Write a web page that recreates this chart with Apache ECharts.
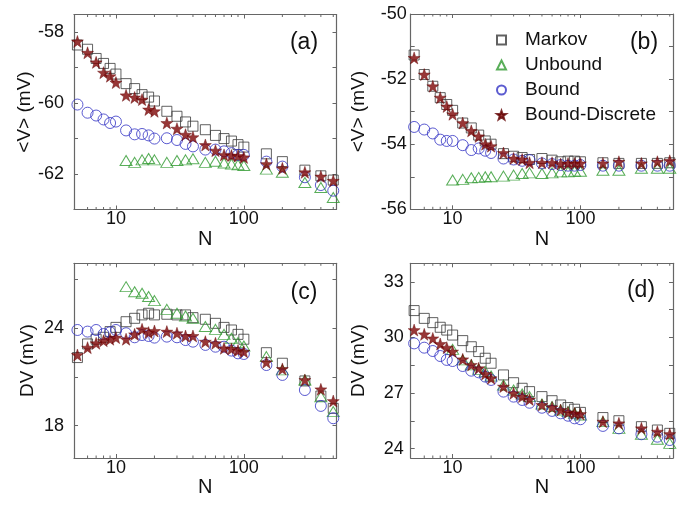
<!DOCTYPE html>
<html>
<head>
<meta charset="utf-8">
<script src="https://cdn.jsdelivr.net/npm/echarts@6/dist/echarts.min.js"></script>
<style>html,body{margin:0;padding:0;background:#fff}#c{width:686px;height:505px}</style>
</head>
<body>
<div id="c"></div>
<script>
// ---- data ----
const N = [5,6,7,8,9,10,12,14,16,18,20,25,30,35,40,50,60,70,80,90,100,150,200,300,400,500];
const minorN = [6,7,8,9,20,30,40,50,60,70,80,90,200,300,400,500];
const seriesNames = ['Markov','Unbound','Bound','Bound-Discrete'];
const panelLabels = ['(a)','(b)','(c)','(d)'];

const A_markov = [-58.36,-58.48,-58.74,-58.88,-59.02,-59.18,-59.45,-59.59,-59.76,-59.83,-59.94,-60.23,-60.37,-60.53,-60.65,-60.75,-60.91,-61.00,-61.07,-61.17,-61.24,-61.43,-61.65,-61.89,-62.05,-62.17];
const A_unbound = [null,null,null,null,null,null,-61.62,-61.67,-61.60,-61.56,-61.60,-61.67,-61.62,-61.60,-61.57,-61.67,-61.64,-61.69,-61.72,-61.74,-61.76,-61.86,-61.95,-62.24,-62.38,-62.66];
const A_bound = [-60.04,-60.27,-60.35,-60.46,-60.56,-60.52,-60.77,-60.88,-60.87,-60.91,-61.00,-60.99,-61.04,-61.15,-61.22,-61.31,-61.31,-61.36,-61.41,-61.46,-61.46,-61.65,-61.79,-62.09,-62.31,-62.47];
const A_discrete = [-58.26,-58.58,-58.85,-59.14,-59.24,-59.42,-59.78,-59.84,-59.90,-60.18,-60.23,-60.56,-60.72,-60.89,-60.96,-61.18,-61.34,-61.46,-61.48,-61.49,-61.53,-61.72,-61.84,-61.95,-62.07,-62.19];

const B_markov = [-51.26,-51.86,-52.22,-52.57,-52.78,-52.96,-53.35,-53.50,-53.72,-53.90,-54.00,-54.29,-54.37,-54.41,-54.47,-54.44,-54.49,-54.54,-54.52,-54.52,-54.54,-54.57,-54.59,-54.59,-54.59,-54.57];
const B_unbound = [null,null,null,null,null,-55.10,-55.08,-55.03,-55.02,-55.00,-55.00,-54.98,-54.95,-54.90,-54.88,-54.90,-54.88,-54.85,-54.85,-54.83,-54.83,-54.80,-54.80,-54.74,-54.74,-54.74];
const B_bound = [-53.47,-53.55,-53.67,-53.86,-53.90,-53.90,-54.03,-54.18,-54.13,-54.20,-54.27,-54.44,-54.47,-54.51,-54.49,-54.59,-54.61,-54.64,-54.66,-54.66,-54.64,-54.66,-54.66,-54.66,-54.66,-54.66];
const B_discrete = [-51.35,-51.86,-52.22,-52.57,-52.84,-53.08,-53.35,-53.59,-53.76,-54.00,-54.06,-54.27,-54.44,-54.47,-54.57,-54.57,-54.57,-54.61,-54.59,-54.59,-54.59,-54.59,-54.54,-54.59,-54.54,-54.51];

const C_markov = [22.19,23.03,23.32,23.44,23.79,24.05,24.40,24.61,24.82,24.92,24.82,24.86,24.82,24.82,24.65,24.55,24.30,24.05,23.89,23.62,23.32,22.49,21.84,20.75,19.82,19.06];
const C_unbound = [null,null,null,null,null,null,26.56,26.25,26.15,25.95,25.70,25.16,24.92,24.75,24.61,24.10,23.93,23.62,23.38,23.11,22.90,22.25,21.43,20.81,19.78,18.86];
const C_bound = [23.89,23.79,23.89,23.64,23.75,23.89,23.69,23.44,23.58,23.52,23.42,23.48,23.44,23.27,23.17,22.97,22.86,22.86,22.62,22.45,22.41,21.73,21.12,20.19,19.21,18.45];
const C_discrete = [22.35,22.80,23.07,23.23,23.32,23.42,23.32,23.62,23.93,23.73,23.83,23.79,23.69,23.52,23.52,23.17,23.07,22.76,22.72,22.62,22.55,21.90,21.49,20.81,20.23,19.51];

const D_markov = [31.45,31.03,30.80,30.55,30.40,30.13,29.83,29.50,29.24,28.88,28.61,27.98,27.56,27.26,27.08,26.81,26.59,26.36,26.22,26.13,25.96,25.68,25.51,25.19,25.01,24.83];
const D_unbound = [null,null,null,null,null,29.36,28.79,28.52,28.28,28.16,27.92,27.44,27.17,26.95,26.81,26.41,26.27,26.09,26.00,25.91,25.82,25.46,25.10,24.78,24.51,24.29];
const D_bound = [29.68,29.45,29.27,29.00,28.79,28.73,28.46,28.21,28.12,27.89,27.71,27.08,26.81,26.63,26.48,26.21,26.04,25.91,25.78,25.64,25.59,25.23,25.10,24.78,24.65,24.47];
const D_discrete = [30.40,30.17,29.95,29.65,29.45,29.24,28.82,28.52,28.34,28.03,27.80,27.35,26.99,26.81,26.66,26.36,26.23,26.09,25.96,25.91,25.87,25.46,25.37,25.10,24.92,24.79];

// ---- layout / styles ----
const FONT = "'Liberation Sans', Arial, sans-serif";
const FRAME = '#666';
const grids = [
  {left: 74, top: 14.5, width: 262.5, height: 195},
  {left: 410.7, top: 14, width: 262.3, height: 195.3},
  {left: 74, top: 263.3, width: 262.5, height: 194.7},
  {left: 410.7, top: 263.3, width: 262.3, height: 194.7}
];
const yCfg = [
  {name: '<V> (mV)', min: -63, max: -57.5, step: 1, show: v => Math.abs(v % 2) === 0, gap: 37, margin: 10},
  {name: '<V> (mV)', min: -56, max: -50, step: 1, show: v => Math.abs(v % 2) === 0, gap: 42, margin: 4},
  {name: 'DV (mV)', min: 16, max: 28, step: 3, show: v => v % 6 === 0, gap: 37, margin: 10},
  {name: 'DV (mV)', min: 23.5, max: 34, step: 1.5, show: v => v % 3 === 0, gap: 42, margin: 7}
];
const panelData = [
  [A_markov, A_unbound, A_bound, A_discrete],
  [B_markov, B_unbound, B_bound, B_discrete],
  [C_markov, C_unbound, C_bound, C_discrete],
  [D_markov, D_unbound, D_bound, D_discrete]
];
const STAR = 'path://M0,-10L2.35,-3.24L9.51,-3.09L3.8,1.24L5.88,8.09L0,4L-5.88,8.09L-3.8,1.24L-9.51,-3.09L-2.35,-3.24Z';
const styles = [
  {symbol: 'rect', symbolSize: 10, itemStyle: {color: 'rgba(0,0,0,0)', borderColor: '#3a3a3a', borderWidth: 1}},
  {symbol: 'triangle', symbolSize: [12, 10], itemStyle: {color: 'rgba(0,0,0,0)', borderColor: '#2f9a2f', borderWidth: 1}},
  {symbol: 'circle', symbolSize: 11, itemStyle: {color: 'rgba(0,0,0,0)', borderColor: '#3232c4', borderWidth: 1}},
  {symbol: STAR, symbolSize: 12, itemStyle: {color: '#7e0505', borderColor: '#600000', borderWidth: 0.5}}
];
const XMIN = 4.7, XMAX = 530;

const xAxis = [], yAxis = [], series = [];
grids.forEach((g, i) => {
  const yc = yCfg[i];
  xAxis.push({
    type: 'log', logBase: 10, gridIndex: i, min: XMIN, max: XMAX, position: 'bottom',
    name: 'N', nameLocation: 'middle', nameGap: 16,
    nameTextStyle: {fontFamily: FONT, fontSize: 20, color: '#111'},
    axisLine: {show: true, lineStyle: {color: FRAME, width: 1.2}},
    axisTick: {show: true, inside: true, length: 4, lineStyle: {color: FRAME}},
    axisLabel: {fontFamily: FONT, fontSize: 18, color: '#111', margin: 1, showMinLabel: false, showMaxLabel: false},
    splitLine: {show: false}, minorTick: {show: false}
  });
  xAxis.push({
    type: 'log', logBase: 10, gridIndex: i, min: XMIN, max: XMAX, position: 'top',
    axisLine: {show: true, lineStyle: {color: FRAME, width: 1.2}},
    axisTick: {show: true, inside: true, length: 4, lineStyle: {color: FRAME}},
    axisLabel: {show: false}, splitLine: {show: false}
  });
  const yBase = {
    type: 'value', gridIndex: i, min: yc.min, max: yc.max,
    minInterval: yc.step, maxInterval: yc.step, splitNumber: 6,
    splitLine: {show: false}
  };
  yAxis.push(Object.assign({}, yBase, {
    position: 'left',
    name: yc.name, nameLocation: 'middle', nameGap: yc.gap, nameRotate: 90,
    nameTextStyle: {fontFamily: FONT, fontSize: 19, color: '#111'},
    axisLine: {show: true, lineStyle: {color: FRAME, width: 1.2}},
    axisTick: {show: true, inside: true, length: 4, lineStyle: {color: FRAME}},
    axisLabel: {fontFamily: FONT, fontSize: 18, color: '#111', margin: yc.margin,
      showMinLabel: yc.show(yc.min), showMaxLabel: yc.show(yc.max),
      formatter: v => yc.show(v) ? String(v) : ''}
  }));
  yAxis.push(Object.assign({}, yBase, {
    position: 'right',
    axisLine: {show: true, lineStyle: {color: FRAME, width: 1.2}},
    axisTick: {show: true, inside: true, length: 4, lineStyle: {color: FRAME}},
    axisLabel: {show: false}
  }));
  panelData[i].forEach((arr, k) => {
    const pts = [];
    N.forEach((n, j) => { if (arr[j] != null) pts.push([n, arr[j]]); });
    series.push(Object.assign({
      type: 'scatter', name: seriesNames[k], xAxisIndex: 2 * i, yAxisIndex: 2 * i,
      data: pts, clip: true, silent: true, animation: false
    }, styles[k]));
  });
  // minor log ticks drawn through the x scale
  series.push({
    type: 'custom', name: 'minor' + i, xAxisIndex: 2 * i, yAxisIndex: 2 * i,
    silent: true, animation: false, clip: false, z: 5,
    data: minorN.map(v => [v, yc.min]),
    renderItem: (params, api) => {
      const cs = params.coordSys;
      const x = api.coord([api.value(0), api.value(1)])[0];
      const b = cs.y + cs.height;
      return {type: 'group', children: [
        {type: 'line', shape: {x1: x, y1: b, x2: x, y2: b - 2.5}, style: {stroke: FRAME, lineWidth: 1}},
        {type: 'line', shape: {x1: x, y1: cs.y, x2: x, y2: cs.y + 2.5}, style: {stroke: FRAME, lineWidth: 1}}
      ]};
    }
  });
});

const labelPos = [[304, 43], [644, 43], [304, 293], [641, 291]];
const graphic = panelLabels.map((t, i) => ({
  type: 'text', x: labelPos[i][0], y: labelPos[i][1], silent: true,
  style: {text: t, textAlign: 'center', textVerticalAlign: 'middle', font: '23px ' + FONT, fill: '#111'}
}));

const chart = echarts.init(document.getElementById('c'), null, {renderer: 'canvas'});
chart.setOption({
  animation: false,
  backgroundColor: '#fff',
  grid: grids.map(g => Object.assign({show: false, containLabel: false}, g)),
  xAxis, yAxis, series, graphic,
  legend: {
    data: seriesNames, orient: 'vertical', left: 491, top: 25,
    itemWidth: 9, itemHeight: 9, itemGap: 5, selectedMode: false,
    textStyle: {fontFamily: FONT, fontSize: 19, lineHeight: 20, color: '#111', padding: [0, 0, 0, 14]}
  }
});
</script>
</body>
</html>
